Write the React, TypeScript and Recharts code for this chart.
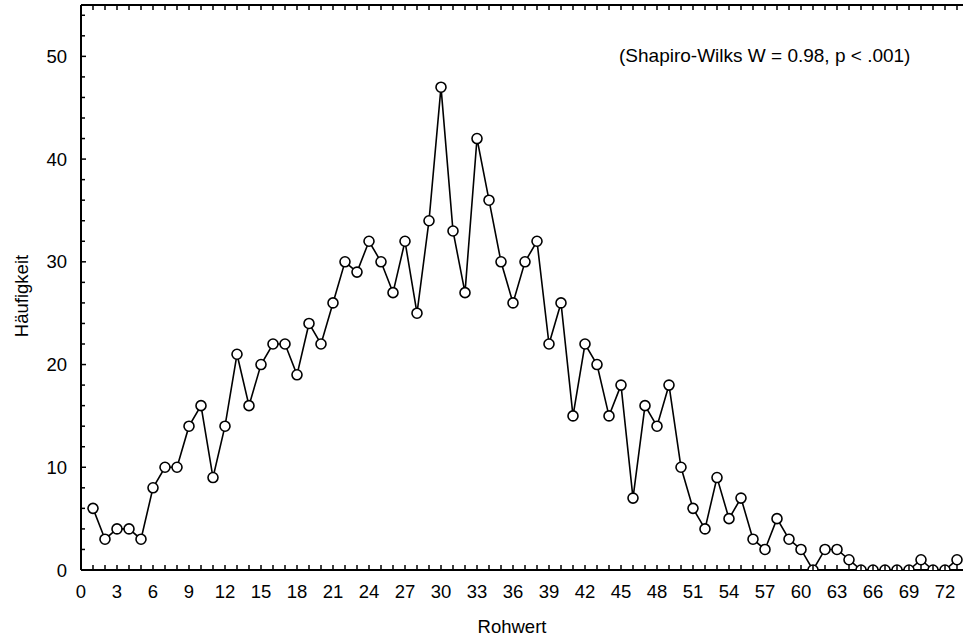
import { LineChart, Line, XAxis, YAxis } from "recharts";

// Rohwert (raw score) categories and their frequencies
const rohwert = [
  1, 2, 3, 4, 5, 6, 7, 8, 9, 10, 11, 12, 13, 14, 15, 16, 17, 18, 19, 20, 21, 22, 23, 24, 25,
  26, 27, 28, 29, 30, 31, 32, 33, 34, 35, 36, 37, 38, 39, 40, 41, 42, 43, 44, 45, 46, 47, 48,
  49, 50, 51, 52, 53, 54, 55, 56, 57, 58, 59, 60, 61, 62, 63, 64, 65, 66, 67, 68, 69, 70, 71,
  72, 73,
];
const haeufigkeit = [
  6, 3, 4, 4, 3, 8, 10, 10, 14, 16, 9, 14, 21, 16, 20, 22, 22, 19, 24, 22, 26, 30, 29, 32, 30,
  27, 32, 25, 34, 47, 33, 27, 42, 36, 30, 26, 30, 32, 22, 26, 15, 22, 20, 15, 18, 7, 16, 14,
  18, 10, 6, 4, 9, 5, 7, 3, 2, 5, 3, 2, 0, 2, 2, 1, 0, 0, 0, 0, 0, 1, 0, 0, 1,
];

const xLabels = [0, 3, 6, 9, 12, 15, 18, 21, 24, 27, 30, 33, 36, 39, 42, 45, 48, 51, 54, 57, 60, 63, 66, 69, 72];
const yLabels = [0, 10, 20, 30, 40, 50];
const xMinor = Array.from({ length: 74 }, (_, i) => i);
const yMinor = Array.from({ length: 28 }, (_, i) => i * 2);

const data = rohwert.map((r, i) => ({ rohwert: r, count: haeufigkeit[i] }));

const FONT = "'Liberation Sans', Arial, sans-serif";
const FS = 18.5;

const BottomTick = (props: any) => {
  const { x, y, payload } = props;
  const v = payload.value;
  return (
    <g>
      <line x1={x} y1={y} x2={x} y2={y - 5} stroke="#000" strokeWidth={1.5} />
      {xLabels.includes(v) && (
        <text x={x} y={y + 28} textAnchor="middle" fontSize={FS} fontFamily={FONT} fill="#000">
          {v}
        </text>
      )}
    </g>
  );
};

const TopTick = (props: any) => {
  const { x, y } = props;
  return <line x1={x} y1={y} x2={x} y2={y + 5} stroke="#000" strokeWidth={1.5} />;
};

const LeftTick = (props: any) => {
  const { x, y, payload } = props;
  const v = payload.value;
  const major = yLabels.includes(v);
  return (
    <g>
      <line x1={x} y1={y} x2={x + (major ? 5 : 4)} y2={y} stroke="#000" strokeWidth={1.5} />
      {major && (
        <text x={x - 14} y={y + 6.5} textAnchor="end" fontSize={FS} fontFamily={FONT} fill="#000">
          {v}
        </text>
      )}
    </g>
  );
};

const YTitle = (props: any) => (
  <text
    x={28}
    y={296}
    transform="rotate(-90 28 296)"
    textAnchor="middle"
    fontSize={FS}
    fontFamily={FONT}
    fill="#000"
  >
    Häufigkeit
  </text>
);

const XTitle = (props: any) => (
  <text x={512} y={633} textAnchor="middle" fontSize={FS} fontFamily={FONT} fill="#000">
    Rohwert
  </text>
);

export default function App() {
  return (
    <div style={{ position: "absolute", left: 0, top: 0, width: 965, height: 644, background: "#fff" }}>
      <LineChart width={965} height={644} data={data} margin={{ top: 0, right: 2, left: 0, bottom: 0 }}>
        <XAxis
          xAxisId="top"
          orientation="top"
          dataKey="rohwert"
          type="number"
          domain={[0, 73.5]}
          allowDataOverflow
          ticks={xMinor}
          interval={0}
          height={5}
          tickSize={0}
          tickMargin={0}
          tickLine={false}
          axisLine={{ stroke: "#000", strokeWidth: 2 }}
          tick={<TopTick />}
        />
        <XAxis
          xAxisId="bottom"
          dataKey="rohwert"
          type="number"
          domain={[0, 73.5]}
          allowDataOverflow
          ticks={xMinor}
          interval={0}
          height={74}
          tickSize={0}
          tickMargin={0}
          tickLine={false}
          axisLine={{ stroke: "#000", strokeWidth: 2 }}
          tick={<BottomTick />}
          label={<XTitle />}
        />
        <YAxis
          type="number"
          domain={[0, 55]}
          allowDataOverflow
          ticks={yMinor}
          interval={0}
          width={81}
          tickSize={0}
          tickMargin={0}
          tickLine={false}
          axisLine={{ stroke: "#000", strokeWidth: 2 }}
          tick={<LeftTick />}
          label={<YTitle />}
        />
        <Line
          xAxisId="bottom"
          dataKey="count"
          type="linear"
          stroke="#000"
          strokeWidth={1.6}
          dot={{ r: 5, fill: "#fff", stroke: "#000", strokeWidth: 1.6 }}
          isAnimationActive={false}
        />
      </LineChart>
      <div
        style={{
          position: "absolute",
          left: 619,
          top: 46,
          fontFamily: FONT,
          fontSize: 19,
          color: "#000",
          whiteSpace: "nowrap",
          lineHeight: "19px",
        }}
      >
        (Shapiro-Wilks W = 0.98, p &lt; .001)
      </div>
    </div>
  );
}
